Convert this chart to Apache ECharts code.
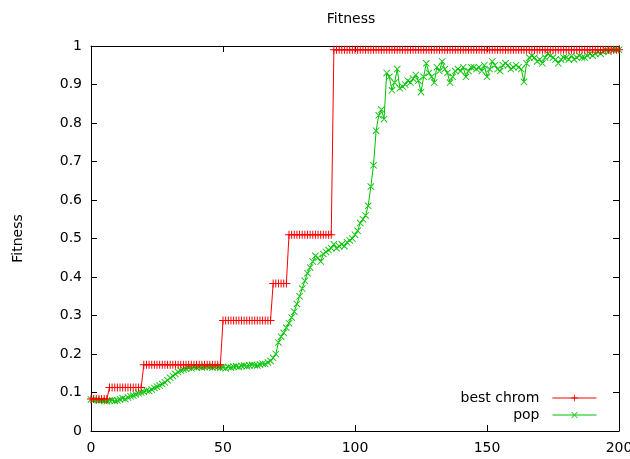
<!DOCTYPE html>
<html>
<head>
<meta charset="utf-8">
<script src="https://cdn.jsdelivr.net/npm/echarts@6/dist/echarts.min.js"></script>
<style>
  html, body { margin: 0; padding: 0; background: #fff; }
  #chart { width: 630px; height: 459px; }
</style>
</head>
<body>
<div id="chart"></div>
<script>
// data, one value per generation (0..200)
var seriesNames = ['best chrom', 'pop']

var bestChrom = [
  0.083, 0.083, 0.083, 0.083, 0.083, 0.083, 0.083,
  0.113, 0.113, 0.113, 0.113, 0.113, 0.113, 0.113, 0.113, 0.113, 0.113, 0.113, 0.113, 0.113,
  0.172, 0.172, 0.172, 0.172, 0.172, 0.172, 0.172, 0.172, 0.172, 0.172,
  0.172, 0.172, 0.172, 0.172, 0.172, 0.172, 0.172, 0.172, 0.172, 0.172,
  0.172, 0.172, 0.172, 0.172, 0.172, 0.172, 0.172, 0.172, 0.172, 0.172,
  0.287, 0.287, 0.287, 0.287, 0.287, 0.287, 0.287, 0.287, 0.287, 0.287,
  0.287, 0.287, 0.287, 0.287, 0.287, 0.287, 0.287, 0.287, 0.287,
  0.383, 0.383, 0.383, 0.383, 0.383, 0.383,
  0.51, 0.51, 0.51, 0.51, 0.51, 0.51, 0.51, 0.51, 0.51, 0.51,
  0.51, 0.51, 0.51, 0.51, 0.51, 0.51, 0.51,
  0.99, 0.99, 0.99, 0.99, 0.99, 0.99, 0.99, 0.99,
  0.99, 0.99, 0.99, 0.99, 0.99, 0.99, 0.99, 0.99, 0.99, 0.99,
  0.99, 0.99, 0.99, 0.99, 0.99, 0.99, 0.99, 0.99, 0.99, 0.99,
  0.99, 0.99, 0.99, 0.99, 0.99, 0.99, 0.99, 0.99, 0.99, 0.99,
  0.99, 0.99, 0.99, 0.99, 0.99, 0.99, 0.99, 0.99, 0.99, 0.99,
  0.99, 0.99, 0.99, 0.99, 0.99, 0.99, 0.99, 0.99, 0.99, 0.99,
  0.99, 0.99, 0.99, 0.99, 0.99, 0.99, 0.99, 0.99, 0.99, 0.99,
  0.99, 0.99, 0.99, 0.99, 0.99, 0.99, 0.99, 0.99, 0.99, 0.99,
  0.99, 0.99, 0.99, 0.99, 0.99, 0.99, 0.99, 0.99, 0.99, 0.99,
  0.99, 0.99, 0.99, 0.99, 0.99, 0.99, 0.99, 0.99, 0.99, 0.99,
  0.99, 0.99, 0.99, 0.99, 0.99, 0.99, 0.99, 0.99, 0.99, 0.99,
  0.99
]

var pop = [
  0.082, 0.080, 0.081, 0.079, 0.080, 0.078, 0.077, 0.079, 0.080, 0.078,
  0.079, 0.082, 0.085, 0.083, 0.087, 0.090, 0.092, 0.095, 0.098, 0.100,
  0.102, 0.105, 0.104, 0.108, 0.112, 0.115, 0.118, 0.122, 0.126, 0.132,
  0.138, 0.143, 0.148, 0.153, 0.157, 0.160, 0.162, 0.164, 0.163, 0.166,
  0.165, 0.167, 0.165, 0.166, 0.168, 0.166, 0.165, 0.167, 0.166, 0.164,
  0.165, 0.163, 0.166, 0.165, 0.167, 0.168, 0.166, 0.169, 0.170, 0.168,
  0.170, 0.172, 0.171, 0.170, 0.173, 0.175, 0.174, 0.178, 0.182, 0.190,
  0.200, 0.230, 0.245, 0.255, 0.268, 0.280, 0.295, 0.310, 0.330, 0.350,
  0.370, 0.390, 0.410, 0.425, 0.440, 0.455, 0.450, 0.440, 0.460, 0.465,
  0.470, 0.475, 0.485, 0.475, 0.480, 0.485, 0.480, 0.490, 0.495, 0.500,
  0.510, 0.520, 0.540, 0.550, 0.560, 0.585, 0.635, 0.690, 0.780, 0.820,
  0.835, 0.810, 0.930, 0.920, 0.885, 0.905, 0.940, 0.890, 0.895, 0.900,
  0.910, 0.905, 0.915, 0.925, 0.910, 0.880, 0.920, 0.955, 0.930, 0.920,
  0.905, 0.945, 0.935, 0.960, 0.940, 0.930, 0.905, 0.920, 0.935, 0.940,
  0.935, 0.945, 0.920, 0.935, 0.945, 0.945, 0.940, 0.945, 0.935, 0.950,
  0.920, 0.940, 0.960, 0.950, 0.940, 0.935, 0.950, 0.955, 0.950, 0.940,
  0.945, 0.950, 0.945, 0.940, 0.907, 0.955, 0.970, 0.975, 0.970, 0.960,
  0.965, 0.955, 0.970, 0.980, 0.975, 0.970, 0.965, 0.955, 0.965, 0.970,
  0.970, 0.965, 0.975, 0.965, 0.970, 0.975, 0.970, 0.970, 0.975, 0.980,
  0.975, 0.980, 0.985, 0.980, 0.985, 0.990, 0.985, 0.990, 0.990, 0.990,
  0.990
]

var font = 'DejaVu Sans'
var fontSize = 14

// gnuplot style point shapes
var plusPath = 'path://M3.5,0h1v8h-1zM0,3.5h8v1h-8z'
var crossPath = 'path://M0,0.7L0.7,0L8,7.3L7.3,8ZM8,0.7L7.3,0L0,7.3L0.7,8Z'

var chart = echarts.init(document.getElementById('chart'))

function axisBase (extra) {
  var a = {
    type: 'value',
    axisLine: { show: true, onZero: false, lineStyle: { color: '#000', width: 1 } },
    axisTick: { show: true, inside: true, length: 6, lineStyle: { color: '#000' } },
    splitLine: { show: false },
    axisLabel: { color: '#000', fontFamily: font, fontSize: fontSize }
  }
  return Object.assign(a, extra)
}

chart.setOption({
  animation: false,
  backgroundColor: '#fff',
  title: {
    text: 'Fitness',
    left: 346,
    top: 7,
    textAlign: 'center',
    textStyle: { color: '#000', fontWeight: 'normal', fontFamily: font, fontSize: fontSize }
  },
  grid: { left: 91, right: 11, top: 46, bottom: 28, outerBoundsMode: 'none' },
  legend: {
    data: seriesNames,
    orient: 'vertical',
    align: 'right',
    right: 28,
    top: 386,
    itemWidth: 44,
    itemHeight: 8,
    itemGap: 3,
    lineStyle: { width: 1 },
    textStyle: { color: '#000', fontFamily: font, fontSize: fontSize, padding: [0, 8, 0, 0] }
  },
  xAxis: [
    axisBase({ min: 0, max: 200, interval: 50, position: 'bottom',
      axisLabel: { color: '#000', fontFamily: font, fontSize: fontSize, margin: 10 } }),
    axisBase({ min: 0, max: 200, interval: 50, position: 'top', axisLabel: { show: false } })
  ],
  yAxis: [
    axisBase({ min: 0, max: 1, interval: 0.1, position: 'left',
      name: 'Fitness', nameLocation: 'middle', nameGap: 66,
      nameTextStyle: { color: '#000', fontFamily: font, fontSize: fontSize },
      axisLabel: { color: '#000', fontFamily: font, fontSize: fontSize, margin: 9 } }),
    axisBase({ min: 0, max: 1, interval: 0.1, position: 'right', axisLabel: { show: false } })
  ],
  series: [
    {
      name: seriesNames[0],
      type: 'line',
      data: bestChrom.map((v, i) => [i, v]),
      symbol: plusPath,
      symbolSize: 8,
      showAllSymbol: true,
      lineStyle: { color: '#ff0000', width: 1 },
      itemStyle: { color: '#ff0000' },
      z: 3
    },
    {
      name: seriesNames[1],
      type: 'line',
      data: pop.map((v, i) => [i, v]),
      symbol: crossPath,
      symbolSize: 7,
      showAllSymbol: true,
      lineStyle: { color: '#00c000', width: 1 },
      itemStyle: { color: '#00c000' },
      z: 2
    }
  ]
})
</script>
</body>
</html>
